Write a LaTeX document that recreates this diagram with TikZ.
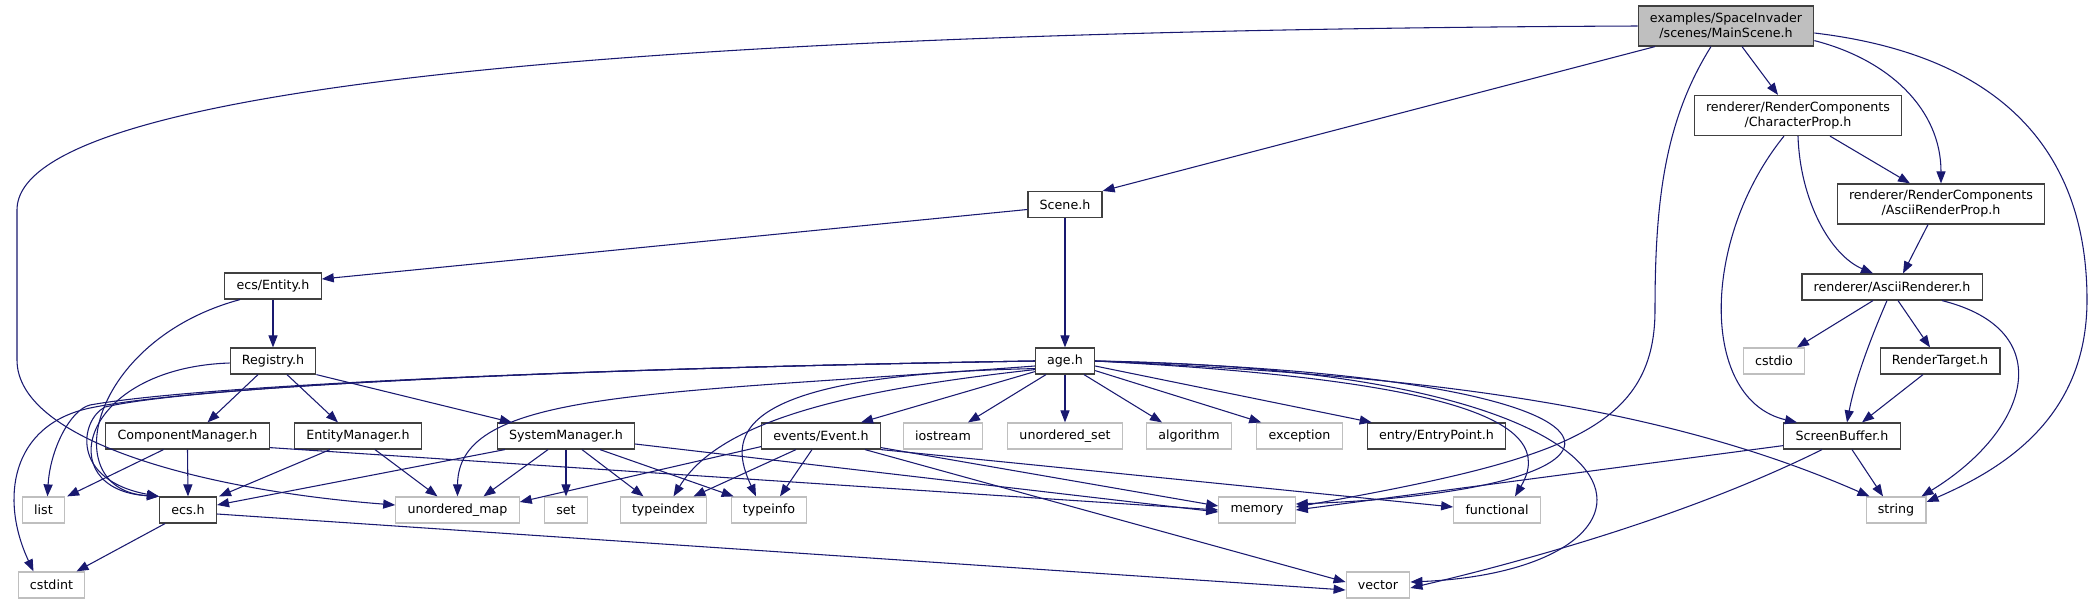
\documentclass[tikz,border=0pt]{standalone}
\usepackage{fontspec}
\setmainfont{DejaVu Sans}
\usetikzlibrary{arrows.meta,calc}

\definecolor{edgeblue}{HTML}{191970}
\definecolor{boxgrey}{HTML}{404040}
\definecolor{sysgrey}{HTML}{BFBFBF}

\begin{document}
\begin{tikzpicture}[
  x=0.75pt, y=-0.75pt,
  font=\fontsize{9.5}{11.25}\selectfont,
  hdr/.style={draw=boxgrey, line width=0.9pt, fill=white, align=center,
    inner xsep=8.8pt, inner ysep=0pt, minimum height=19.5pt},
  sys/.style={hdr, draw=sysgrey},
  tall/.style={minimum height=30pt},
  root/.style={hdr, tall, fill=sysgrey},
  inc/.style={-{Triangle[length=9pt,width=6.8pt]}, edgeblue, line width=0.8pt}
]
\useasboundingbox (0,0) rectangle (2093,604);

\node[root] (root) at (1726,26) {examples/SpaceInvader\\/scenes/MainScene.h};
\node[hdr, tall] (charprop) at (1798,115.5) {renderer/RenderComponents\\/CharacterProp.h};
\node[hdr, tall] (asciiprop) at (1941,204) {renderer/RenderComponents\\/AsciiRenderProp.h};
\node[hdr] (asciirend) at (1892,287) {renderer/AsciiRenderer.h};
\node[sys] (cstdio) at (1774,361) {cstdio};
\node[hdr] (rtarget) at (1940,361) {RenderTarget.h};
\node[hdr] (sbuf) at (1842,436) {ScreenBuffer.h};
\node[sys] (string) at (1896,510) {string};
\node[sys] (functional) at (1497,510) {functional};
\node[hdr] (scene) at (1065,204.5) {Scene.h};
\node[hdr] (age) at (1065,361) {age.h};
\node[hdr] (entity) at (273,286) {ecs/Entity.h};
\node[hdr] (registry) at (273,361) {Registry.h};
\node[hdr] (compmgr) at (187.5,436) {ComponentManager.h};
\node[hdr] (entmgr) at (358,436) {EntityManager.h};
\node[hdr] (sysmgr) at (566,436) {SystemManager.h};
\node[sys] (list) at (43.5,510) {list};
\node[hdr] (ecs) at (188,510) {ecs.h};
\node[sys] (umap) at (457.5,510) {unordered\_map};
\node[sys] (cstdint) at (51.5,585) {cstdint};
\node[sys] (set) at (566,510) {set};
\node[sys] (typeindex) at (663.5,510) {typeindex};
\node[sys] (typeinfo) at (769,510) {typeinfo};
\node[hdr] (event) at (821,436) {events/Event.h};
\node[sys] (iostream) at (943,436) {iostream};
\node[sys] (uset) at (1065,436) {unordered\_set};
\node[sys] (algorithm) at (1189,436) {algorithm};
\node[sys] (exception) at (1299.5,436) {exception};
\node[hdr] (entry) at (1436.5,436) {entry/EntryPoint.h};
\node[sys] (memory) at (1257,510) {memory};
\node[sys] (vector) at (1378,585) {vector};

\draw[inc] (root.west) .. controls (700,30) and (17,80) .. (17,210) -- (17,360)
  .. controls (17,440) and (200,490) .. ($(umap.west)+(0,-5)$);
\draw[inc] ($(root.south)+(-71,0)$) -- (scene.north east);
\draw[inc] ($(root.south)+(-15,0)$) .. controls (1665,120) and (1655,200) .. (1655,310)
  .. controls (1655,430) and (1560,460) .. ($(memory.east)+(0,-3)$);
\draw[inc] ($(root.south)+(16,0)$) -- ($(charprop.north)+(-20,0)$);
\draw[inc] ($(root.south east)+(0,-6)$) .. controls (1890,60) and (1941,110) .. (asciiprop.north);
\draw[inc] ($(root.east)+(0,7)$) .. controls (2000,55) and (2087,150) .. (2087,300)
  .. controls (2087,420) and (2000,470) .. ($(string.east)+(0,-8)$);

\draw[inc] ($(charprop.south)+(32,0)$) -- ($(asciiprop.north)+(-31,0)$);
\draw[inc] (charprop.south) .. controls (1800,200) and (1830,255) .. ($(asciirend.north)+(-19,0)$);
\draw[inc] ($(charprop.south)+(-14,0)$) .. controls (1700,240) and (1700,400) .. ($(sbuf.north)+(-45,0)$);
\draw[inc] ($(asciiprop.south)+(-13,0)$) -- ($(asciirend.north)+(11,0)$);

\draw[inc] ($(asciirend.south)+(-19,0)$) -- ($(cstdio.north)+(23,0)$);
\draw[inc] ($(asciirend.south)+(-5,0)$) .. controls (1870,340) and (1855,380) .. ($(sbuf.north)+(5,0)$);
\draw[inc] ($(asciirend.south)+(6,0)$) -- ($(rtarget.north)+(-10,0)$);
\draw[inc] ($(asciirend.south)+(50,0)$) .. controls (2060,330) and (2030,430) .. ($(string.north east)+(-5,0)$);
\draw[inc] ($(rtarget.south)+(-17,0)$) -- ($(sbuf.north)+(20,0)$);

\draw[inc] ($(sbuf.south west)+(0,-4)$) -- (memory.east);
\draw[inc] ($(sbuf.south)+(10,0)$) -- ($(string.north)+(-13,0)$);
\draw[inc] ($(sbuf.south)+(-20,0)$) .. controls (1700,510) and (1550,555) .. ($(vector.east)+(0,3)$);

\draw[inc] ($(scene.west)+(0,5)$) -- ($(entity.east)+(0,-7)$);
\draw[inc] (scene.south) -- (age.north);

\draw[inc] (entity.south) -- (registry.north);
\draw[inc] ($(entity.south)+(-33,0)$) .. controls (90,340) and (55,490) .. (ecs.north west);

\draw[inc] ($(registry.south)+(-15,0)$) -- ($(compmgr.north)+(20,0)$);
\draw[inc] ($(registry.south)+(14,0)$) -- ($(entmgr.north)+(-20,0)$);
\draw[inc] (registry.south east) -- ($(sysmgr.north west)+(15,0)$);
\draw[inc] ($(registry.west)+(0,2)$) .. controls (80,368) and (50,490) .. (ecs.north west);

\draw[inc] (age.west) .. controls (600,368) and (200,385) .. (90,405)
  .. controls (70,410) and (50,450) .. ($(list.north)+(4,0)$);
\draw[inc] (age.west) .. controls (600,368) and (200,385) .. (90,408)
  .. controls (10,425) and (0,500) .. ($(cstdint.north)+(-18,0)$);
\draw[inc] (age.west) .. controls (600,368) and (200,385) .. (105,407)
  .. controls (80,420) and (70,480) .. (ecs.north west);
\draw[inc] ($(age.west)+(0,5)$) .. controls (650,395) and (458,390) .. (umap.north);
\draw[inc] ($(age.south west)+(0,-5)$) .. controls (850,390) and (720,420) .. ($(typeindex.north)+(10,0)$);
\draw[inc] ($(age.south west)+(0,-6)$) .. controls (720,375) and (730,440) .. ($(typeinfo.north)+(-13,0)$);
\draw[inc] ($(age.south west)+(0,-3)$) -- ($(event.north)+(40,0)$);
\draw[inc] ($(age.south)+(-19,0)$) -- ($(iostream.north)+(25,0)$);
\draw[inc] (age.south) -- (uset.north);
\draw[inc] ($(age.south)+(19,0)$) -- ($(algorithm.north)+(-27,0)$);
\draw[inc] ($(age.south east)+(0,-4)$) -- ($(exception.north west)+(5,0)$);
\draw[inc] ($(age.east)+(0,5)$) -- ($(entry.north west)+(5,0)$);
\draw[inc] (age.east) .. controls (1400,375) and (1650,400) .. ($(string.north west)+(4,0)$);
\draw[inc] (age.east) .. controls (1450,380) and (1560,420) .. ($(functional.north)+(18,0)$);
\draw[inc] (age.east) .. controls (1680,375) and (1680,490) .. ($(memory.east)+(0,-6)$);
\draw[inc] (age.east) .. controls (1700,370) and (1690,570) .. ($(vector.east)+(0,-3)$);

\draw[inc] ($(event.south west)+(0,-3)$) -- ($(umap.east)+(0,-8)$);
\draw[inc] ($(event.south)+(-25,0)$) -- ($(typeindex.north)+(30,0)$);
\draw[inc] ($(event.south)+(-9,0)$) -- ($(typeinfo.north)+(11,0)$);
\draw[inc] ($(event.south east)+(0,-2)$) -- ($(memory.west)+(0,-4)$);
\draw[inc] (event.south east) -- ($(functional.west)+(0,-3)$);
\draw[inc] ($(event.south)+(44,0)$) -- ($(vector.west)+(0,-3)$);

\draw[inc] ($(compmgr.south)+(-24,0)$) -- ($(list.north east)+(2,0)$);
\draw[inc] (compmgr.south) -- (ecs.north);
\draw[inc] ($(compmgr.south east)+(0,-2)$) -- (memory.west);

\draw[inc] ($(entmgr.south)+(-28,0)$) -- ($(ecs.north east)+(2,0)$);
\draw[inc] ($(entmgr.south)+(17,0)$) -- ($(umap.north)+(-20,0)$);

\draw[inc] ($(sysmgr.south west)+(8,0)$) -- ($(ecs.east)+(0,-5)$);
\draw[inc] ($(sysmgr.south)+(-18,0)$) -- ($(umap.north)+(26,0)$);
\draw[inc] (sysmgr.south) -- (set.north);
\draw[inc] ($(sysmgr.south)+(16,0)$) -- ($(typeindex.north)+(-20,0)$);
\draw[inc] ($(sysmgr.south)+(34,0)$) -- ($(typeinfo.north west)+(3,0)$);
\draw[inc] ($(sysmgr.east)+(0,8)$) -- ($(memory.west)+(0,2)$);

\draw[inc] ($(ecs.south)+(-23,0)$) -- ($(cstdint.north)+(25,0)$);
\draw[inc] ($(ecs.east)+(0,4)$) -- ($(vector.west)+(0,5)$);
\end{tikzpicture}
\end{document}
